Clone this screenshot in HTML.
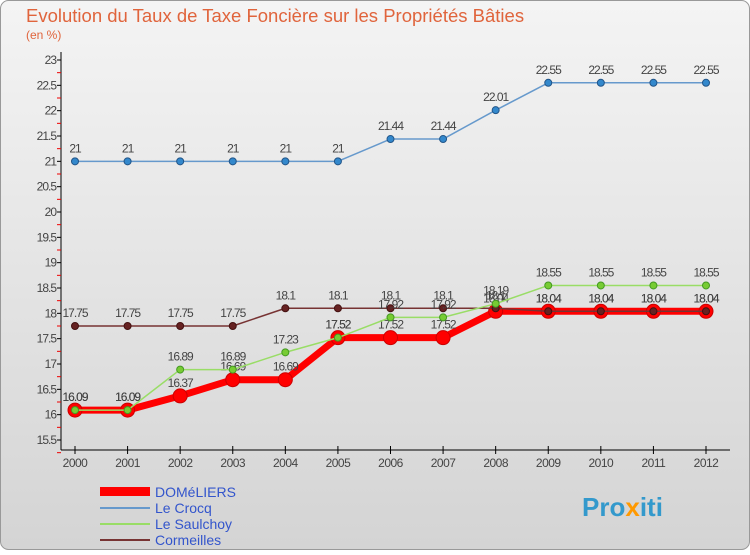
<!DOCTYPE html>
<html><head><meta charset="utf-8"><style>
body{margin:0;width:750px;height:550px;overflow:hidden;font-family:"Liberation Sans",sans-serif}
</style></head><body>
<svg id="c" width="750" height="550" xmlns="http://www.w3.org/2000/svg">
<defs><linearGradient id="bg" x1="0" y1="0" x2="0" y2="1"><stop offset="0" stop-color="#f4f4f4"/><stop offset="1" stop-color="#d4d4d4"/></linearGradient></defs>
<rect x="0.5" y="0.5" width="749" height="549" rx="8" fill="url(#bg)" stroke="#999"/>
<text x="26" y="22" font-size="18.5" fill="#e0643c">Evolution du Taux de Taxe Foncière sur les Propriétés Bâties</text>
<text x="26" y="39" font-size="12" fill="#e0643c">(en %)</text>
<g id="axes"></g><g id="series"></g>
<g>
<rect x="100" y="487" width="50" height="9" fill="#ff0000"/>
<text x="155" y="497" font-size="14" fill="#3355cc">DOMéLIERS</text>
<line x1="100" y1="508" x2="150" y2="508" stroke="#6699cc" stroke-width="2"/>
<text x="155" y="513" font-size="14" fill="#3355cc">Le Crocq</text>
<line x1="100" y1="524" x2="150" y2="524" stroke="#99dd66" stroke-width="2"/>
<text x="155" y="529" font-size="14" fill="#3355cc">Le Saulchoy</text>
<line x1="100" y1="540" x2="150" y2="540" stroke="#773333" stroke-width="2"/>
<text x="155" y="545" font-size="14" fill="#3355cc">Cormeilles</text>
</g>
<text x="582" y="516" font-size="26" font-weight="bold" fill="#3399cc">Pro<tspan fill="#ff9900">x</tspan>iti</text>
</svg>
<script>
const years=[2000,2001,2002,2003,2004,2005,2006,2007,2008,2009,2010,2011,2012];
const yTicks=[15.5,16,16.5,17,17.5,18,18.5,19,19.5,20,20.5,21,21.5,22,22.5,23];
const domeliers=[16.09,16.09,16.37,16.69,16.69,17.52,17.52,17.52,18.04,18.04,18.04,18.04,18.04];
const crocq=[21,21,21,21,21,21,21.44,21.44,22.01,22.55,22.55,22.55,22.55];
const saulchoy=[16.09,16.09,16.89,16.89,17.23,17.52,17.92,17.92,18.19,18.55,18.55,18.55,18.55];
const cormeilles=[17.75,17.75,17.75,17.75,18.1,18.1,18.1,18.1,18.1,18.04,18.04,18.04,18.04];
const NS="http://www.w3.org/2000/svg";
const xS=i=>75+i*(706-75)/(years.length-1);
const yS=v=>440-(v-15.5)*(380/7.5);
function mk(t,a,p,txt){const e=document.createElementNS(NS,t);for(const k in a)e.setAttribute(k,a[k]);if(txt!=null)e.textContent=txt;p.appendChild(e);return e;}
const ax=document.getElementById('axes');
const yl=mk('line',{x1:61,y1:52,x2:61,y2:450,stroke:'#000'},ax);


const xl=mk('line',{x1:61,y1:450,x2:730,y2:450,stroke:'#000'},ax);


yTicks.forEach(v=>{const y=yS(v);
mk('line',{x1:57,y1:y,x2:61,y2:y,stroke:'#000'},ax);
mk('line',{x1:57,y1:y+12.67,x2:61,y2:y+12.67,stroke:'#e00'},ax);
const t=mk('text',{x:56,y:y+4,'font-size':12,'text-anchor':'end',fill:'#444','letter-spacing':'-1'},ax,String(v));

});
years.forEach((yr,i)=>{const x=xS(i);
mk('line',{x1:x,y1:446,x2:x,y2:454,stroke:'#000'},ax);
const t=mk('text',{x:x,y:467,'font-size':12,'text-anchor':'middle',fill:'#444','letter-spacing':'-0.5'},ax,String(yr));

});
const sg=document.getElementById('series');
function draw(vals,name,col,w,r,dot,dotStroke){
const g=mk('g',{},sg);


mk('polyline',{points:vals.map((v,i)=>xS(i)+','+yS(v)).join(' '),fill:'none',stroke:col,'stroke-width':w,'stroke-linejoin':'round'},g);
vals.forEach((v,i)=>{const c=mk('circle',{cx:xS(i),cy:yS(v),r:r,fill:dot,stroke:dotStroke,'stroke-width':1},g);


const t=mk('text',{x:xS(i),y:yS(v)-9,'font-size':12,'text-anchor':'middle',fill:'#444','letter-spacing':'-1'},g,String(v));

});}
draw(crocq,'le-crocq','#6699cc',1.5,3.5,'#3388cc','#225588');
draw(domeliers,'domeliers','#ff0000',7,7,'#ff0000','#cc0000');
draw(cormeilles,'cormeilles','#773333',1.5,3.5,'#662222','#441111');
draw(saulchoy,'le-saulchoy','#99dd66',1.5,3.5,'#77cc33','#449922');
</script>
</body></html>
